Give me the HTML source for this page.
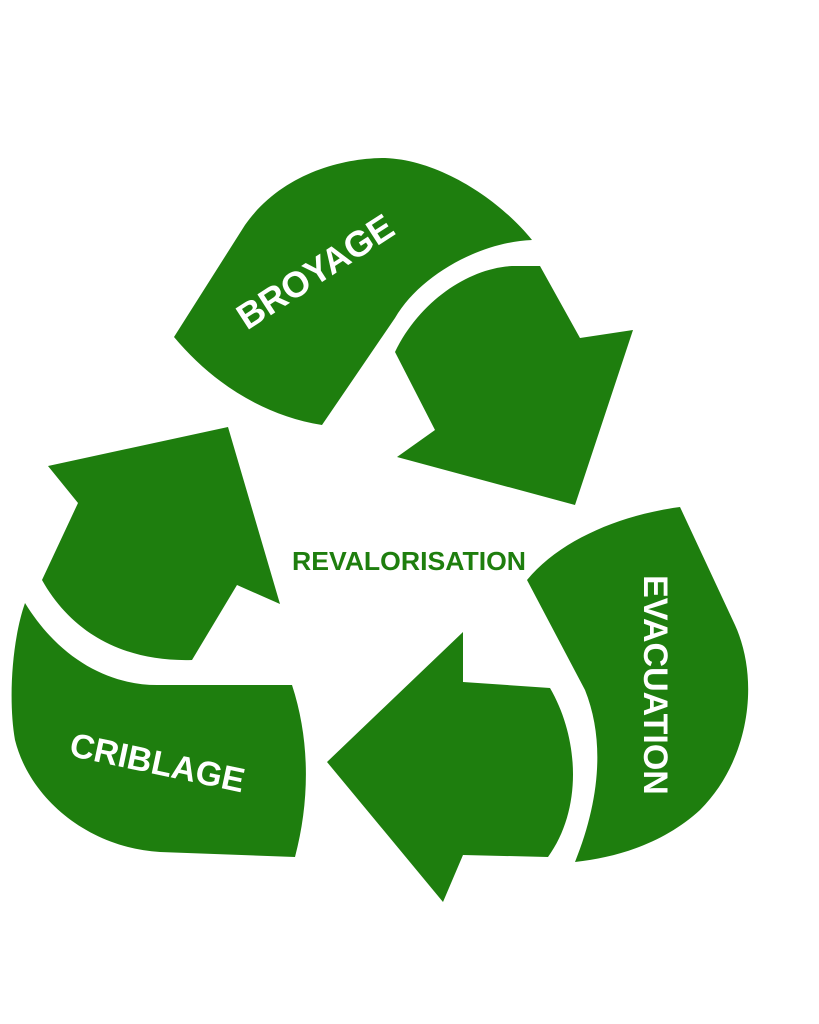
<!DOCTYPE html>
<html><head><meta charset="utf-8"><style>
html,body{margin:0;padding:0;background:#fff;}
svg{display:block;}
text{font-family:"Liberation Sans",sans-serif;font-weight:bold;}
</style></head><body>
<svg width="819" height="1024" viewBox="0 0 819 1024" xmlns="http://www.w3.org/2000/svg">
<g fill="#1e7e0e">
<!-- BROYAGE leaf -->
<path d="M174,337 L245,225 C280,175 340,158 385,158 C440,160 500,200 532,240 C480,242 420,275 395,318 L322,425 C260,415 210,380 174,337 Z"/>
<!-- top-right arrow -->
<path d="M395,352 C420,300 470,268 512,266 L540,266 L580,338 L633,330 L575,505 L397,457 L435,430 Z"/>
<!-- EVACUATION leaf -->
<path d="M527,580 C560,540 620,515 680,507 L735,625 C760,680 750,760 700,810 C665,842 620,857 575,862 C600,800 605,740 585,690 Z"/>
<!-- bottom arrow -->
<path d="M463,632 L463,682 L550,688 C580,740 582,810 548,857 L463,855 L443,902 L327,762 Z"/>
<!-- CRIBLAGE leaf -->
<path d="M25,603 C60,660 110,685 157,685 L292,685 C310,740 310,800 295,857 L160,852 C90,848 30,800 15,740 C8,700 12,640 25,603 Z"/>
<!-- left arrow -->
<path d="M48,466 L228,427 L280,604 L237,585 L192,660 C120,662 70,630 42,580 L78,503 Z"/>
</g>
<text x="0" y="0" fill="#fff" font-size="36" text-anchor="middle" transform="translate(322,282) rotate(-33)">BROYAGE</text>
<text x="0" y="0" fill="#fff" font-size="34" text-anchor="middle" transform="translate(644,685) rotate(90)">EVACUATION</text>
<text x="0" y="0" fill="#fff" font-size="34" text-anchor="middle" transform="translate(155,774) rotate(12)">CRIBLAGE</text>
<text x="409" y="570" fill="#1e7e0e" font-size="26" text-anchor="middle" textLength="234" lengthAdjust="spacingAndGlyphs">REVALORISATION</text>
</svg>
</body></html>
